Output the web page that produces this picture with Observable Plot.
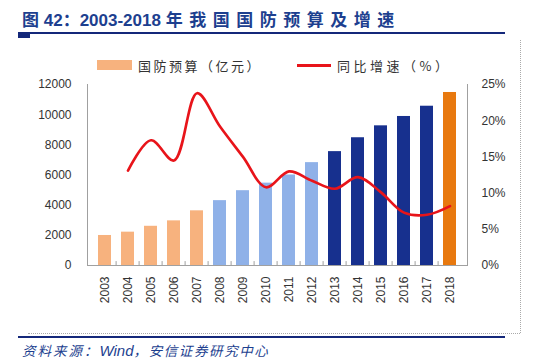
<!DOCTYPE html>
<html><head><meta charset="utf-8">
<script src="https://cdn.jsdelivr.net/npm/d3@7"></script>
<script src="https://cdn.jsdelivr.net/npm/@observablehq/plot@0.6"></script>
<style>
body{margin:0;background:#fff;}
#wrap{position:relative;width:538px;height:364px;overflow:hidden;font-family:"Liberation Sans",Arial,"Noto Sans CJK SC",sans-serif;}
#wrap svg.plot{position:absolute;left:0;top:0;}
.abs{position:absolute;white-space:nowrap;}
</style></head>
<body><div id="wrap"></div>
<script>
const years = ["2003","2004","2005","2006","2007","2008","2009","2010","2011","2012","2013","2014","2015","2016","2017","2018"];
const budget = [1990, 2210, 2600, 2960, 3625, 4300, 4960, 5460, 6000, 6820, 7550, 8470, 9260, 9880, 10560, 11470];
const growthYears = ["2004","2005","2006","2007","2008","2009","2010","2011","2012","2013","2014","2015","2016","2017","2018"];
const growth = [13.1, 17.3, 14.5, 23.8, 19.2, 15.0, 10.8, 13.0, 11.7, 10.6, 12.2, 10.1, 7.3, 7.0, 8.2];
const groups = ["a","a","a","a","a","b","b","b","b","b","c","c","c","c","c","d"];
const leftTicks = [0, 2000, 4000, 6000, 8000, 10000, 12000];
const rightTicks = [0, 5, 10, 15, 20, 25];
const titleA = "图 42：2003-2018 ";
const titleB = "年我国国防预算及增速";
const legend1 = "国防预算（亿元）";
const legend2 = "同比增速（%）";
const sourceA = "资料来源：";
const sourceB = "Wind";
const sourceC = "，安信证券研究中心";

const yMax = 12000, pMax = 25, k = yMax / pMax;
const bars = years.map((y, i) => ({year: y, value: budget[i], g: groups[i]}));
const line = growthYears.map((y, i) => ({year: y, v: growth[i] * k}));
const colors = {a: "#f7b27e", b: "#8fb1e8", c: "#17308e", d: "#e8790f"};

const plot = Plot.plot({
  width: 538, height: 364,
  marginTop: 84, marginBottom: 99, marginLeft: 87, marginRight: 71,
  style: {fontFamily: "'Liberation Sans', Arial, sans-serif", fontSize: "12px", color: "#333", background: "transparent"},
  x: {type: "band", domain: years, paddingInner: 0.45, paddingOuter: 0.22},
  y: {domain: [0, yMax]},
  marks: [
    Plot.barY(bars, {x: "year", y: "value", fill: d => colors[d.g]}),
    Plot.line(line, {x: "year", y: "v", stroke: "#e8141a", strokeWidth: 2.6, curve: "catmull-rom"}),
    Plot.frame({anchor: "left", stroke: "#a0a0a0"}),
    Plot.frame({anchor: "right", stroke: "#a0a0a0"}),
    Plot.ruleY([0], {stroke: "#a0a0a0"}),
    Plot.ruleX(years.slice(1), {x: d => d, y1: 0, y2: 260, dx: -11.9, stroke: "#a0a0a0"}),
    Plot.axisY(leftTicks, {anchor: "left", tickSize: 0, tickPadding: 16, tickFormat: d => String(d), fontSize: 12, fill: "#333", label: null}),
    Plot.ruleY(leftTicks, {x1: "2003", x2: "2003", dx: -16, stroke: "#a0a0a0", insetLeft: 0}),
    Plot.axisY(rightTicks.map(p => p * k), {anchor: "right", tickSize: 0, tickPadding: 14, tickFormat: d => Math.round(d / k) + "%", fontSize: 12, fill: "#333", label: null}),
    Plot.axisX(years, {anchor: "bottom", tickSize: 0, tickPadding: 11, tickRotate: -90, fontSize: 12, fill: "#333", label: null})
  ]
});
plot.classList.add("plot");
const wrap = document.getElementById("wrap");
wrap.appendChild(plot);

function add(html, css) {
  const d = document.createElement("div");
  d.className = "abs";
  d.style.cssText += css;
  if (typeof html === "string") d.textContent = html; else html.forEach(n => d.appendChild(n));
  wrap.appendChild(d);
  return d;
}
function span(t, css) { const s = document.createElement("span"); s.textContent = t; s.style.cssText = css; return s; }
// title
add([span(titleA, ""), span(titleB, "letter-spacing:6.5px;")], "left:22px;top:6px;font-size:17px;font-weight:bold;color:#1d3f8f;font-family:'Liberation Sans',Arial,'Noto Sans CJK SC',sans-serif;");
add("", "left:18px;top:32px;width:487px;height:1.5px;background:#14287a;");
add("", "left:18px;top:33px;width:12px;height:5px;background:#14287a;");
// frame dotted
add("", "left:520px;top:40px;width:0;height:293px;border-left:1.5px dotted #aaa;");
add("", "left:28px;top:333px;width:492px;height:0;border-top:1.5px dotted #aaa;");
add("", "left:18px;top:336px;width:487px;height:2px;background:#14287a;");
// source
add([span(sourceA, "letter-spacing:2px;"), span(sourceB, "font-size:15px;"), span(sourceC, "letter-spacing:1.6px;")], "left:22px;top:340px;font-size:13.5px;font-style:italic;color:#1d3f8f;font-family:'Liberation Sans','Noto Sans CJK SC',sans-serif;");
// legend
add("", "left:97px;top:60px;width:35px;height:10px;background:#f7b27e;");
add(legend1, "left:138px;top:56px;font-size:13px;letter-spacing:2.5px;color:#333;font-family:'Noto Sans CJK SC',sans-serif;");
add("", "left:297px;top:64px;width:34px;height:3px;background:#e8141a;");
add(legend2, "left:337px;top:56px;font-size:13px;letter-spacing:3.5px;color:#333;font-family:'Noto Sans CJK SC',sans-serif;");
</script></body></html>
